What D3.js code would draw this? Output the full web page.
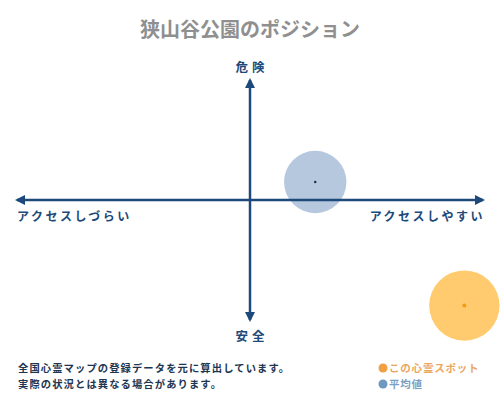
<!DOCTYPE html>
<html>
<head>
<meta charset="utf-8">
<script src="https://cdn.jsdelivr.net/npm/d3@7"></script>
<style>
  body { margin: 0; background: #fff; }
  text { font-family: "Noto Sans CJK JP", sans-serif; }
</style>
</head>
<body>
<div id="chart"></div>
<script>
// data
const titleText = "狭山谷公園のポジション";
const axisLabels = ["危険", "安全", "アクセスしづらい", "アクセスしやすい"];
const pointNames = ["この心霊スポット", "平均値"];
const accessValues = [92, 28];     // x: -100 (hard) .. 100 (easy)
const dangerValues = [-88, 15];    // y: -100 (safe) .. 100 (danger)
const sizeValues = [88, 78];
const notes = ["全国心霊マップの登録データを元に算出しています。", "実際の状況とは異なる場合があります。"];

const width = 500, height = 400;
const axisColor = "#1d4a7a";

const svg = d3.select("#chart").append("svg")
    .attr("width", width)
    .attr("height", height);

const x = d3.scaleLinear().domain([-100, 100]).range([17, 483]);
const y = d3.scaleLinear().domain([-100, 100]).range([320, 80]);
const r = d3.scaleLinear().domain([0, 100]).range([0, 40]);

const defs = svg.append("defs");
defs.append("marker")
    .attr("id", "arrow")
    .attr("viewBox", "0 0 10 10")
    .attr("refX", 8).attr("refY", 5)
    .attr("markerWidth", 4).attr("markerHeight", 4)
    .attr("orient", "auto-start-reverse")
    .append("path")
    .attr("d", "M0,0 L10,5 L0,10 z")
    .attr("fill", axisColor);

svg.append("text")
    .attr("x", 250).attr("y", 37)
    .attr("text-anchor", "middle")
    .attr("font-size", 20)
    .attr("font-weight", "bold")
    .attr("fill", "#8f8f8f")
    .text(titleText);

// bubbles go under the axes
const colors = [{ fill: "#ffc55e", opacity: 0.9, dot: "#f39c12", dotR: 2 },
                { fill: "#a8bed8", opacity: 0.85, dot: "#1a2a40", dotR: 1.2 }];
const pts = accessValues.map((a, i) => ({ name: pointNames[i], a, d: dangerValues[i], s: sizeValues[i], c: colors[i] }));

svg.append("g").selectAll("circle")
    .data(pts)
    .enter().append("circle")
    .attr("cx", d => x(d.a))
    .attr("cy", d => y(d.d))
    .attr("r", d => r(d.s))
    .attr("fill", d => d.c.fill)
    .attr("fill-opacity", d => d.c.opacity);

// axes
svg.append("line")
    .attr("x1", x(-100)).attr("x2", x(100))
    .attr("y1", y(0)).attr("y2", y(0))
    .attr("stroke", axisColor).attr("stroke-width", 2.5)
    .attr("marker-start", "url(#arrow)")
    .attr("marker-end", "url(#arrow)");
svg.append("line")
    .attr("x1", x(0)).attr("x2", x(0))
    .attr("y1", y(100)).attr("y2", y(-100))
    .attr("stroke", axisColor).attr("stroke-width", 2.5)
    .attr("marker-start", "url(#arrow)")
    .attr("marker-end", "url(#arrow)");

svg.append("g").selectAll("circle")
    .data(pts)
    .enter().append("circle")
    .attr("cx", d => x(d.a))
    .attr("cy", d => y(d.d))
    .attr("r", d => d.c.dotR)
    .attr("fill", d => d.c.dot);

// axis labels
const lab = svg.append("g")
    .attr("fill", axisColor)
    .attr("font-weight", "bold")
    .attr("font-size", 12.5)
    .attr("letter-spacing", 4);
lab.append("text").attr("x", x(0) + 2).attr("y", 72).attr("text-anchor", "middle").text(axisLabels[0]);
lab.append("text").attr("x", x(0) + 2).attr("y", 341).attr("text-anchor", "middle").text(axisLabels[1]);
lab.append("text").attr("x", 17).attr("y", 221).attr("font-size", 12).attr("letter-spacing", 2.5).text(axisLabels[2]);
lab.append("text").attr("x", 485).attr("y", 221).attr("font-size", 12).attr("letter-spacing", 2.5).attr("text-anchor", "end").text(axisLabels[3]);

// footnotes
svg.append("g").selectAll("text")
    .data(notes)
    .enter().append("text")
    .attr("x", 18)
    .attr("y", (d, i) => 372 + i * 16)
    .attr("font-size", 10.3)
    .attr("font-weight", "bold")
    .attr("letter-spacing", 1.1)
    .attr("fill", "#1e3550")
    .text(d => d);

// legend
const dotColors = ["#f0a040", "#6f98c0"];
const legColors = ["#eaa75e", "#7b9fc4"];
const leg = svg.append("g").selectAll("g")
    .data(pointNames)
    .enter().append("g")
    .attr("transform", (d, i) => `translate(383, ${368 + i * 16})`);
leg.append("circle").attr("r", 4.5).attr("fill", (d, i) => dotColors[i]);
leg.append("text")
    .attr("x", 6).attr("y", 4)
    .attr("font-size", 10.5)
    .attr("font-weight", "bold")
    .attr("letter-spacing", 0.8)
    .attr("fill", (d, i) => legColors[i])
    .text(d => d);
</script>
</body>
</html>
